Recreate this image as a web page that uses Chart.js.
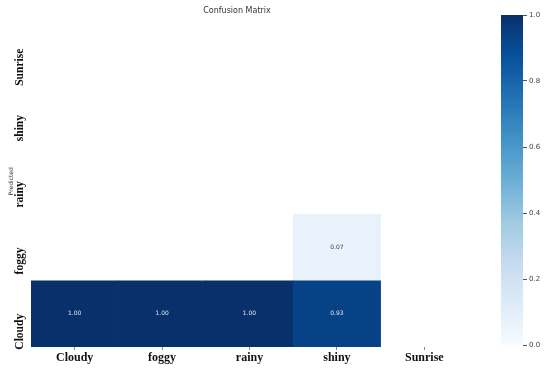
<!DOCTYPE html>
<html>
<head>
<meta charset="utf-8">
<script src="https://cdn.jsdelivr.net/npm/chart.js@4"></script>
<style>
  html, body { margin: 0; padding: 0; background: #fff; }
  #wrap { position: relative; width: 550px; height: 368px; }
  #cm { position: absolute; left: 0; top: 0; }
  #cb { position: absolute; left: 490px; top: 0; }
</style>
</head>
<body>
<div id="wrap">
  <canvas id="cm" width="497" height="368"></canvas>
  <canvas id="cb" width="60" height="368"></canvas>
</div>
<script>
// rows listed bottom to top (as drawn), columns left to right
let rowLabels = ['Cloudy', 'foggy', 'rainy', 'shiny', 'Sunrise'];
let colLabels = ['Cloudy', 'foggy', 'rainy', 'shiny', 'Sunrise'];
let rowCloudy = [1.00, 1.00, 1.00, 0.93, null];
let rowFoggy = [null, null, null, 0.07, null];
let rowRainy = [null, null, null, null, null];
let rowShiny = [null, null, null, null, null];
let rowSunrise = [null, null, null, null, null];
let colorbarTicks = [0, 0.2, 0.4, 0.6, 0.8, 1.0];

let matrix = [rowCloudy, rowFoggy, rowRainy, rowShiny, rowSunrise];

// matplotlib "Blues"
let blues = ['#f7fbff', '#deebf7', '#c6dbef', '#9ecae1', '#6baed6', '#4292c6', '#2171b5', '#08519c', '#08306b'];

function hexToRgb(h) {
    return [parseInt(h.slice(1, 3), 16), parseInt(h.slice(3, 5), 16), parseInt(h.slice(5, 7), 16)];
}

function bluesColor(v) {
    let t = Math.max(0, Math.min(1, v)) * (blues.length - 1);
    let i = Math.min(Math.floor(t), blues.length - 2);
    let f = t - i;
    let a = hexToRgb(blues[i]), b = hexToRgb(blues[i + 1]);
    let c = a.map((x, k) => Math.round(x + (b[k] - x) * f));
    return `rgb(${c[0]}, ${c[1]}, ${c[2]})`;
}

let datasets = matrix.map((row, r) => ({
    label: rowLabels[r],
    data: row.map(v => v == null ? null : [r, r + 1]),
    values: row,
    backgroundColor: row.map(v => v == null ? 'rgba(0,0,0,0)' : bluesColor(v)),
    borderWidth: 0,
    grouped: false,
    barPercentage: 1,
    categoryPercentage: 1
}));

// write the value in each cell
const cellText = {
    id: 'cellText',
    afterDatasetsDraw(chart) {
        let ctx = chart.ctx;
        ctx.save();
        ctx.font = '6px "DejaVu Sans"';
        ctx.textAlign = 'center';
        ctx.textBaseline = 'middle';
        chart.data.datasets.forEach((ds, r) => {
            let meta = chart.getDatasetMeta(r);
            ds.values.forEach((v, c) => {
                if (v == null) return;
                let bar = meta.data[c];
                let cy = (bar.y + bar.base) / 2;
                ctx.fillStyle = v > 0.5 ? '#dfe7f2' : '#3a3a3a';
                ctx.fillText(v.toFixed(2), bar.x, cy);
            });
        });
        ctx.restore();
    }
};

new Chart(document.getElementById('cm'), {
    type: 'bar',
    data: { labels: colLabels, datasets: datasets },
    options: {
        responsive: false,
        animation: false,
        layout: { padding: { left: 6, right: 29, top: 0, bottom: 0 } },
        plugins: {
            legend: { display: false },
            tooltip: { enabled: false },
            title: {
                display: true,
                text: 'Confusion Matrix',
                color: '#333',
                font: { family: 'DejaVu Sans', size: 8, weight: 'normal' },
                padding: { top: 6, bottom: 0 }
            }
        },
        scales: {
            x: {
                grid: { offset: false, drawOnChartArea: false, tickLength: 3, color: '#888' },
                border: { display: false },
                ticks: {
                    color: '#111',
                    padding: 1,
                    font: { family: 'Liberation Serif', size: 12, weight: 'bold' }
                },
                afterFit(scale) { scale.height = 21; }
            },
            y: {
                min: 0,
                max: 5,
                grid: { display: false },
                border: { display: false },
                afterBuildTicks(scale) {
                    scale.ticks = rowLabels.map((_, i) => ({ value: i + 0.5 }));
                },
                ticks: {
                    color: '#111',
                    padding: 3,
                    minRotation: 90,
                    maxRotation: 90,
                    font: { family: 'Liberation Serif', size: 11.5, weight: 'bold' },
                    callback: (v, i) => rowLabels[i]
                },
                title: {
                    display: true,
                    text: 'Predicted',
                    color: '#333',
                    padding: { top: 2, bottom: 0 },
                    font: { family: 'DejaVu Sans', size: 6 }
                },
                afterFit(scale) { scale.width = 25; }
            }
        }
    },
    plugins: [cellText]
});

// colour bar
new Chart(document.getElementById('cb'), {
    type: 'bar',
    data: {
        labels: [''],
        datasets: [{
            data: [[0, 1]],
            borderWidth: 0,
            barPercentage: 1,
            categoryPercentage: 1,
            backgroundColor(context) {
                let area = context.chart.chartArea;
                if (!area) return blues[4];
                let g = context.chart.ctx.createLinearGradient(0, area.bottom, 0, area.top);
                blues.forEach((c, i) => g.addColorStop(i / (blues.length - 1), c));
                return g;
            }
        }]
    },
    options: {
        responsive: false,
        animation: false,
        layout: { padding: { left: 11, right: 0, top: 15, bottom: 23 } },
        plugins: { legend: { display: false }, tooltip: { enabled: false } },
        scales: {
            x: { display: false },
            y: {
                position: 'right',
                min: 0,
                max: 1,
                afterBuildTicks(scale) {
                    scale.ticks = colorbarTicks.map(v => ({ value: v }));
                },
                border: { display: false },
                grid: { drawOnChartArea: false, drawTicks: true, tickLength: 4, color: '#555' },
                ticks: {
                    color: '#444',
                    padding: 2,
                    font: { family: 'DejaVu Sans', size: 7 },
                    callback: v => v.toFixed(1)
                },
                afterFit(scale) { scale.width = 27; }
            }
        }
    }
});
</script>
</body>
</html>
